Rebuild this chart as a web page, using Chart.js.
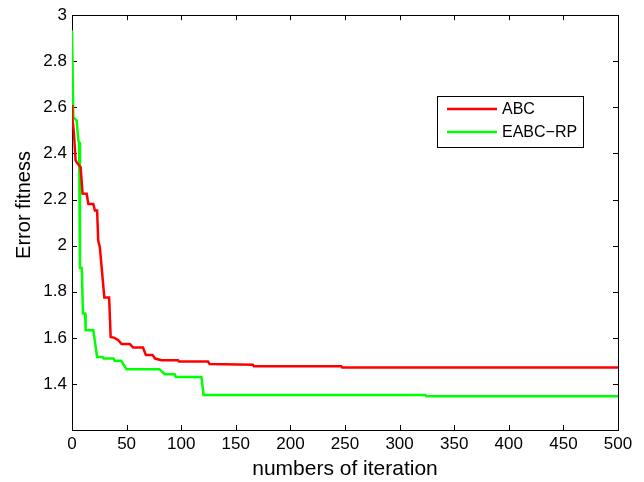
<!DOCTYPE html>
<html>
<head>
<meta charset="utf-8">
<script src="https://cdn.jsdelivr.net/npm/chart.js@4.4.1/dist/chart.umd.min.js"></script>
<style>
  html, body { margin: 0; padding: 0; background: #fff; }
  #wrap { width: 644px; height: 482px; position: relative; }
</style>
</head>
<body>
<div id="wrap"><canvas id="chart"></canvas></div>
<script>
// ABC curve (iteration, error fitness) corner points
const abcIter = [0, 0.3, 1.8, 3.3, 4.9, 7.9, 9.7, 13.4, 15, 19.5, 21, 23, 24, 25.5, 29.6, 34, 35.4, 39, 42.4, 45.4, 53, 56, 65, 67.6, 73.7, 76, 82, 97, 98, 124.6, 126, 165.7, 166.5, 246.5, 247.5, 500];
const abcFit  = [2.61, 2.557, 2.485, 2.37, 2.357, 2.34, 2.226, 2.225, 2.181, 2.181, 2.152, 2.152, 2.022, 1.993, 1.775, 1.775, 1.604, 1.60, 1.59, 1.573, 1.573, 1.558, 1.558, 1.526, 1.526, 1.51, 1.503, 1.503, 1.497, 1.497, 1.486, 1.483, 1.477, 1.477, 1.471, 1.471];

// EABC-RP curve
const eabcIter = [0, 1.2, 4.3, 5.8, 6.5, 7.3, 9, 10, 12, 12.5, 19.5, 23, 28, 29, 38, 39, 45, 50, 80, 85, 94, 95, 118.5, 120.5, 323.6, 324.6, 500];
const eabcFit  = [2.935, 2.557, 2.543, 2.457, 2.45, 1.903, 1.903, 1.706, 1.706, 1.633, 1.633, 1.517, 1.517, 1.51, 1.51, 1.50, 1.50, 1.464, 1.464, 1.442, 1.442, 1.43, 1.43, 1.352, 1.352, 1.346, 1.346];

const seriesNames = ['ABC', 'EABC\u2212RP'];
const seriesColors = ['#ff0000', '#00ff00'];
const xTitle = 'numbers of iteration';
const yTitle = 'Error fitness';

const FONT = '"Liberation Sans", Arial, Helvetica, sans-serif';

const toPoints = (xs, ys) => xs.map((x, i) => ({ x: x, y: ys[i] }));

// MATLAB-style box with inward ticks on all four sides
const boxPlugin = {
  id: 'box',
  beforeDatasetsDraw(chart) {
    const { ctx, chartArea: a, scales } = chart;
    ctx.save();
    ctx.strokeStyle = '#000';
    ctx.lineWidth = 1;
    ctx.strokeRect(Math.round(a.left) + 0.5, Math.round(a.top) + 0.5,
                   Math.round(a.right - a.left), Math.round(a.bottom - a.top));
    const len = 5;
    ctx.beginPath();
    scales.x.ticks.forEach(t => {
      const px = Math.round(scales.x.getPixelForValue(t.value)) + 0.5;
      ctx.moveTo(px, a.bottom); ctx.lineTo(px, a.bottom - len);
      ctx.moveTo(px, a.top); ctx.lineTo(px, a.top + len);
    });
    scales.y.ticks.forEach(t => {
      const py = Math.round(scales.y.getPixelForValue(t.value)) + 0.5;
      ctx.moveTo(a.left, py); ctx.lineTo(a.left + len, py);
      ctx.moveTo(a.right, py); ctx.lineTo(a.right - len, py);
    });
    ctx.stroke();
    ctx.restore();
  },
  afterDraw(chart) {
    const { ctx } = chart;
    ctx.save();
    // y axis title, sits a bit above the axis middle like the original
    ctx.translate(24, 205);
    ctx.rotate(-Math.PI / 2);
    ctx.font = '20px ' + FONT;
    ctx.fillStyle = '#000';
    ctx.textAlign = 'center';
    ctx.textBaseline = 'middle';
    ctx.fillText(yTitle, 0, 0);
    ctx.restore();

    // legend box in the upper right of the axes
    const bx = 437, by = 96, bw = 146, bh = 51;
    ctx.save();
    ctx.fillStyle = '#fff';
    ctx.fillRect(bx, by, bw, bh);
    ctx.strokeStyle = '#000';
    ctx.lineWidth = 1;
    ctx.strokeRect(bx + 0.5, by + 0.5, bw, bh);
    ctx.font = '16px ' + FONT;
    ctx.textBaseline = 'middle';
    ctx.textAlign = 'left';
    chart.data.datasets.forEach((ds, i) => {
      const y = 109 + i * 23;
      ctx.strokeStyle = ds.borderColor;
      ctx.lineWidth = 2.5;
      ctx.beginPath();
      ctx.moveTo(447, y); ctx.lineTo(497, y);
      ctx.stroke();
      ctx.fillStyle = '#000';
      ctx.fillText(ds.label, 502, y + 1);
    });
    ctx.restore();
  }
};

new Chart(document.getElementById('chart'), {
  type: 'line',
  data: {
    datasets: [
      {
        label: seriesNames[0],
        data: toPoints(abcIter, abcFit),
        borderColor: seriesColors[0],
        borderWidth: 2.5,
        pointRadius: 0,
        tension: 0,
        fill: false,
      },
      {
        label: seriesNames[1],
        data: toPoints(eabcIter, eabcFit),
        borderColor: seriesColors[1],
        borderWidth: 2.5,
        pointRadius: 0,
        tension: 0,
        fill: false,
      }
    ]
  },
  options: {
    responsive: true,
    maintainAspectRatio: false,
    animation: false,
    layout: { padding: { top: 14, right: 26, left: 0, bottom: 0 } },
    plugins: {
      legend: { display: false },
      tooltip: { enabled: false },
    },
    scales: {
      x: {
        type: 'linear',
        min: 0, max: 500,
        grid: { display: false, drawTicks: false },
        border: { display: false },
        ticks: { stepSize: 50, color: '#000', padding: 4, maxRotation: 0,
                 font: { family: FONT, size: 17 } },
        title: { display: true, text: xTitle, color: '#000', padding: { top: 0, bottom: 0 },
                 font: { family: FONT, size: 21 } },
        afterFit: s => { s.height = 52; },
      },
      y: {
        type: 'linear',
        min: 1.2, max: 3,
        grid: { display: false, drawTicks: false },
        border: { display: false },
        afterBuildTicks: s => { s.ticks = s.ticks.filter(t => t.value > 1.25); },
        ticks: { stepSize: 0.2, color: '#000', padding: 5,
                 font: { family: FONT, size: 17 },
                 callback: v => String(Number(v.toFixed(1))) },
        afterFit: s => { s.width = 72; },
      }
    }
  },
  plugins: [boxPlugin]
});
</script>
</body>
</html>
